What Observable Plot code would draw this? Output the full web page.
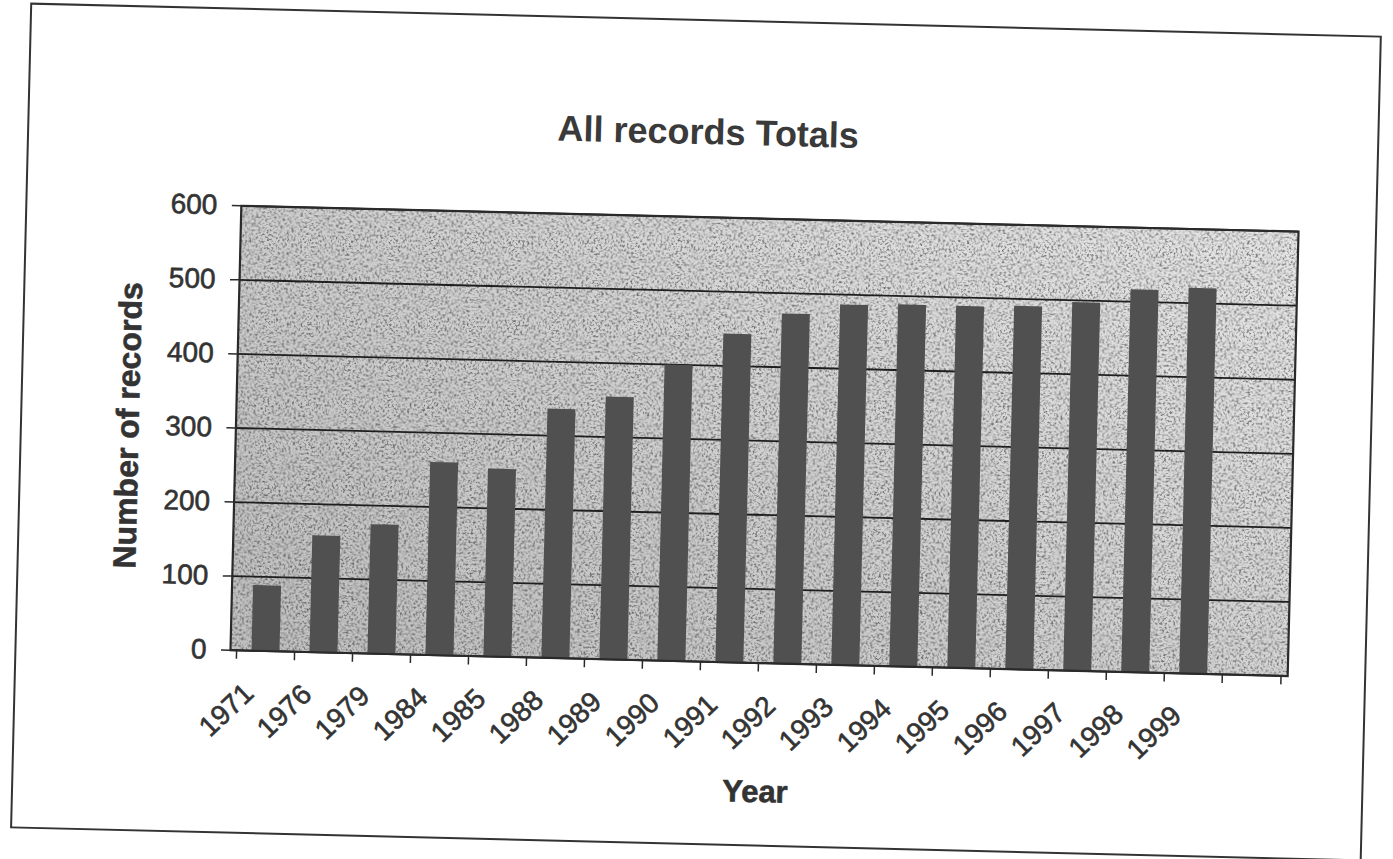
<!DOCTYPE html>
<html>
<head>
<meta charset="utf-8">
<script src="https://cdn.jsdelivr.net/npm/d3@7"></script>
<script src="https://cdn.jsdelivr.net/npm/@observablehq/plot@0.6"></script>
<style>
  html, body { margin: 0; padding: 0; background: #fff; overflow: hidden; }
  #page {
    position: relative; width: 1393px; height: 859px;
    transform: rotate(1.4deg); transform-origin: 696px 430px;
    font-family: "Liberation Sans", Arial, sans-serif; color: #333;
  }
  #border {
    position: absolute; left: 20px; top: 19px; width: 1352px; height: 826px;
    border: 2.5px solid #333; box-sizing: border-box;
  }
  #title { position: relative; height: 160px; }
  #title span {
    position: absolute; left: 0; width: 1402px; top: 114px;
    text-align: center; font-size: 36px; line-height: 36px; font-weight: bold; color: #3a3a3a;
  }
  #chart svg { display: block; }
  #chart svg text { paint-order: stroke; stroke: #333; stroke-width: 0.6px; }
</style>
</head>
<body>
<div id="page">
  <div id="border"></div>
  <div id="title"><span>All records Totals</span></div>
  <div id="chart"></div>
</div>
<script>
// ---- data ----
const years = ["1971","1976","1979","1984","1985","1988","1989","1990","1991",
               "1992","1993","1994","1995","1996","1997","1998","1999"];
const records = [88, 157, 174, 260, 253, 336, 354, 399, 443,
                 472, 486, 488, 488, 490, 497, 516, 520];
const slots = [...years, ""];          // the chart has one trailing empty category
const yTicks = [0, 100, 200, 300, 400, 500, 600];
const yLabel = "Number of records";
const xLabel = "Year";

const rows = years.map((year, i) => ({year, value: records[i]}));

const W = 1393, H = 699;
const mL = 235.5, mR = 100, mT = 56.5, mB = 198;
const step = (W - mL - mR) / slots.length;

const plot = Plot.plot({
  width: W, height: H,
  marginLeft: mL, marginRight: mR, marginTop: mT, marginBottom: mB,
  style: {fontFamily: "Liberation Sans, Arial, sans-serif", color: "#333", background: "transparent", overflow: "visible"},
  x: {type: "band", domain: slots, paddingInner: 0.52, paddingOuter: 0.26, label: null},
  y: {domain: [0, 600], label: null},
  marks: [
    Plot.frame({fill: "url(#bgGrad)"}),
    Plot.frame({fill: "black"}),
    Plot.gridY(yTicks, {stroke: "#1e1e1e", strokeOpacity: 1, strokeWidth: 1.8}),
    Plot.barY(rows, {x: "year", y: "value", fill: "#505050"}),
    Plot.frame({stroke: "#2a2a2a", strokeWidth: 2.2}),
    Plot.axisY(yTicks, {tickSize: 9, tickPadding: 15, fontSize: 28, label: null, stroke: "#2a2a2a", strokeWidth: 1.5}),
    Plot.axisX(slots, {tickSize: 9, tickFormat: () => "", dx: -step / 2, label: null, stroke: "#2a2a2a", strokeWidth: 1.5}),
    Plot.axisX([""], {tickSize: 9, tickFormat: () => "", dx: step / 2, label: null, stroke: "#2a2a2a", strokeWidth: 1.5}),
    Plot.axisX(years, {tickSize: 0, tickPadding: 38, tickRotate: -45, dx: -16, fontSize: 28, label: null}),
    Plot.text([yLabel], {frameAnchor: "left", rotate: -90, dx: -107.5, fontSize: 32, fontWeight: "bold", textAnchor: "middle", lineAnchor: "middle", fill: "#333"}),
    Plot.text([xLabel], {frameAnchor: "bottom", dy: 129, dx: -1, fontSize: 31, fontWeight: "bold", textAnchor: "middle", lineAnchor: "middle", fill: "#333"})
  ]
});

// background texture: gradient + grain, like the scanned plot area
const ns = "http://www.w3.org/2000/svg";
const defs = document.createElementNS(ns, "defs");
defs.innerHTML = `
  <linearGradient id="bgGrad" x1="0" y1="0.8" x2="1" y2="0">
    <stop offset="0" stop-color="#c2c2c2"/>
    <stop offset="0.4" stop-color="#d0d0d0"/>
    <stop offset="0.75" stop-color="#dedede"/>
    <stop offset="1" stop-color="#e6e6e6"/>
  </linearGradient>
  <filter id="grain" x="0" y="0" width="100%" height="100%">
    <feTurbulence type="fractalNoise" baseFrequency="0.45" numOctaves="3" seed="7" result="t"/>
    <feColorMatrix in="t" type="matrix" values="0 0 0 0 0  0 0 0 0 0  0 0 0 0 0  3.2 0 0 0 -1.5" result="n"/>
    <feComposite in="n" in2="SourceGraphic" operator="in"/>
  </filter>`;
plot.insertBefore(defs, plot.firstChild);
const frames = plot.querySelectorAll('[aria-label="frame"]');
if (frames[1]) {
  frames[1].setAttribute("filter", "url(#grain)");
  frames[1].setAttribute("opacity", "0.5");
}

document.getElementById("chart").appendChild(plot);
</script>
</body>
</html>
